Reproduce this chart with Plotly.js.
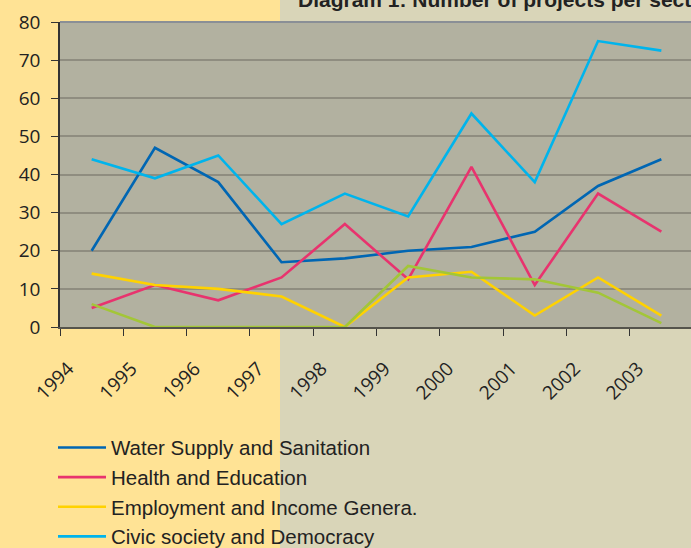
<!DOCTYPE html>
<html>
<head>
<meta charset="utf-8">
<script src="https://cdn.plot.ly/plotly-3.0.1.min.js"></script>
<style>
  html, body { margin: 0; padding: 0; width: 691px; height: 548px; overflow: hidden;
    background: linear-gradient(to right, #FFE395 0px, #FFE395 280px, #D9D5B8 280px, #D9D5B8 100%); }
  #chart { width: 700px; height: 570px; }
</style>
</head>
<body>
<div id="chart"></div>
<script>
const years = [1994, 1995, 1996, 1997, 1998, 1999, 2000, 2001, 2002, 2003];
const yearLabels = ["1994", "1995", "1996", "1997", "1998", "1999", "2000", "2001", "2002", "2003"];
const waterSupply = [20, 47, 38, 17, 18, 20, 21, 25, 37, 44];
const healthEducation = [5, 11, 7, 13, 27, 12.5, 42, 11, 35, 25];
const employmentIncome = [14, 11, 10, 8, 0, 13, 14.5, 3, 13, 3];
const civicSociety = [44, 39, 45, 27, 35, 29, 56, 38, 75, 72.5];
const otherSector = [6, 0, 0, 0, 0, 16, 13, 12.5, 9, 1];

const seriesNames = ["Water Supply and Sanitation", "Health and Education", "Employment and Income Genera.", "Civic society and Democracy", "Other"];
const seriesColors = ["#0066B3", "#E8336E", "#FFD200", "#00B4EC", "#A3C637"];
const seriesValues = [waterSupply, healthEducation, employmentIncome, civicSociety, otherSector];

const traces = seriesValues.map((vals, i) => ({
  type: 'scatter',
  mode: 'lines',
  x: years,
  y: vals,
  name: seriesNames[i],
  line: { color: seriesColors[i], width: 2.6 },
  cliponaxis: false,
  showlegend: i < 4
}));

const layout = {
  width: 700,
  height: 570,
  margin: { l: 60, r: 7, t: 22, b: 243 },
  paper_bgcolor: 'rgba(0,0,0,0)',
  plot_bgcolor: '#B2B1A0',
  showlegend: true,
  title: {
    text: '<b>Diagram 1: Number of projects per sector</b>',
    font: { family: 'Liberation Sans, Arial, sans-serif', size: 21, color: '#222222' },
    xref: 'container', x: 298 / 700, xanchor: 'left',
    yref: 'container', y: 1 - 7 / 570, yanchor: 'bottom'
  },
  xaxis: {
    range: [1993.5, 2003.5],
    tickmode: 'array',
    tickvals: years.map(y => y - 0.37),
    ticktext: yearLabels,
    ticks: '',
    tickangle: -45,
    ticklabelstandoff: 21,
    tickfont: { family: 'Open Sans, sans-serif', size: 19, color: '#222222' },
    showgrid: false,
    zeroline: false,
    showline: true,
    linecolor: '#55544C',
    linewidth: 2,
    layer: 'below traces',
    minor: { tick0: 1993.5, dtick: 1, ticks: 'outside', ticklen: 7, tickwidth: 1.3, tickcolor: '#333333', showgrid: false }
  },
  yaxis: {
    range: [0, 80],
    dtick: 10,
    ticks: 'outside',
    ticklen: 7,
    tickwidth: 1.3,
    tickcolor: '#333333',
    ticklabelstandoff: 7,
    tickfont: { family: 'Open Sans, sans-serif', size: 19, color: '#222222' },
    showgrid: true,
    gridcolor: '#8F8D80',
    gridwidth: 1.5,
    zeroline: false,
    showline: true,
    linecolor: '#333333',
    linewidth: 1.5,
    layer: 'below traces'
  },
  shapes: [
    { type: 'line', xref: 'paper', yref: 'paper', x0: 0, x1: 1, y0: 1, y1: 1,
      line: { color: '#8A8F96', width: 2 }, layer: 'below' }
  ],
  legend: {
    x: -7 / 633, xanchor: 'left',
    y: -0.33, yanchor: 'top',
    bgcolor: 'rgba(0,0,0,0)',
    font: { family: 'Liberation Sans, Arial, sans-serif', size: 20.5, color: '#222222' },
    itemwidth: 48,
    tracegroupgap: 0
  }
};

Plotly.newPlot('chart', traces, layout, { displayModeBar: false, responsive: false });
</script>
</body>
</html>
